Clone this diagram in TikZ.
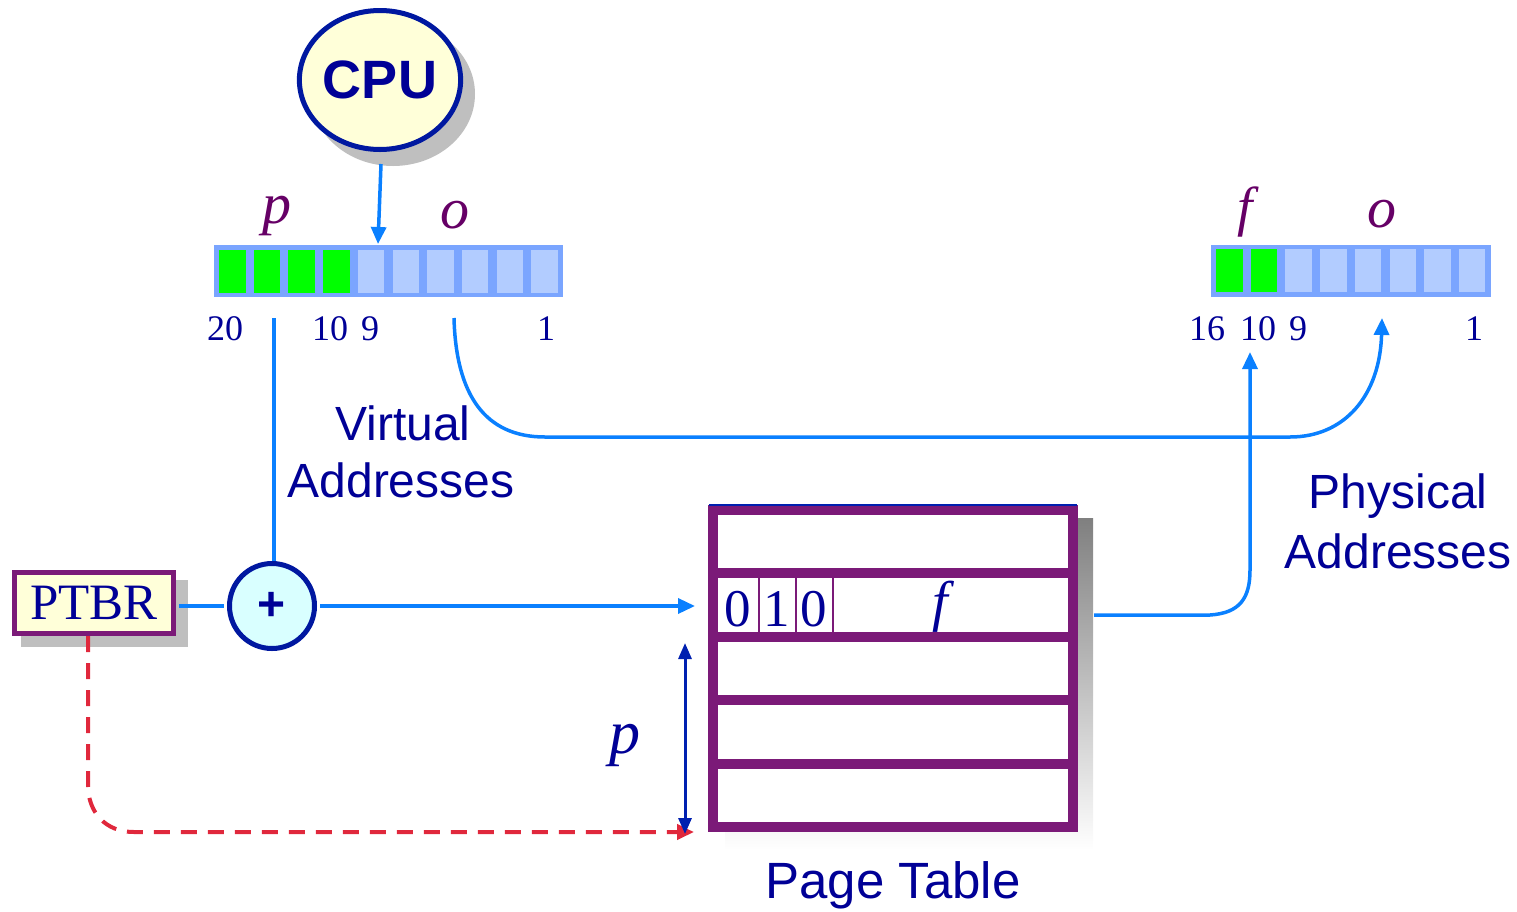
\documentclass[tikz,border=0pt]{standalone}
\usepackage{fontspec}
\setmainfont{Liberation Serif}
\setsansfont{Liberation Sans}
\usetikzlibrary{arrows.meta,shapes.geometric}
\definecolor{connc}{RGB}{10,128,255}
\definecolor{navy}{RGB}{0,0,150}
\definecolor{cpuborder}{RGB}{0,24,160}
\definecolor{ptpurple}{RGB}{123,26,120}
\definecolor{lblpurple}{RGB}{102,0,102}
\definecolor{cream}{RGB}{255,255,217}
\definecolor{lcyan}{RGB}{217,255,255}
\definecolor{bitgreen}{RGB}{0,255,0}
\definecolor{bitblue}{RGB}{178,204,255}
\definecolor{barblue}{RGB}{122,165,255}
\definecolor{dashred}{RGB}{224,40,60}
\definecolor{shade}{RGB}{191,191,191}
\definecolor{pblue}{RGB}{0,32,176}
\begin{document}
\begin{tikzpicture}[x=1pt,y=-1pt,
  connline/.style={draw=connc,line width=3.5},
  conn/.style={connline,-{Triangle[length=17pt,width=15pt]}},
  reddash/.style={draw=dashred,line width=4,dash pattern=on 16pt off 11pt,-{Triangle[length=17pt,width=15pt]}},
  parrow/.style={draw=pblue,line width=3,{Triangle[length=16pt,width=13pt]}-{Triangle[length=16pt,width=13pt]}},
  sanslbl/.style={inner sep=0,text=navy,font=\sffamily\fontsize{48}{50}\selectfont},
  numlbl/.style={inner sep=0,text=navy,font=\fontsize{36}{36}\selectfont},
  fieldlbl/.style={inner sep=0,text=lblpurple,font=\itshape\fontsize{58}{58}\selectfont},
  cellnum/.style={inner sep=0,text=navy,font=\fontsize{53}{53}\selectfont},
  shadow/.style={fill=shade,draw=none}
]
\useasboundingbox (0,0) rectangle (1517,911);

% ---------- CPU ----------
\node[shadow,ellipse,minimum width=164,minimum height=144,inner sep=0] (cpushadow) at (393,94) {};
\node[ellipse,draw=cpuborder,line width=5,fill=cream,minimum width=159,minimum height=139,inner sep=0,
      text=navy,font=\sffamily\bfseries\fontsize{54}{54}\selectfont] (cpu) at (380,80) {CPU};

% ---------- Virtual address bar ----------
\fill[barblue] (214,245) rectangle (563,297);
\foreach \i in {0,...,3}{\pgfmathsetmacro\cx{219+34.7*\i}\fill[bitgreen] (\cx,250) rectangle ++(26.5,43);}
\foreach \i in {4,...,9}{\pgfmathsetmacro\cx{219+34.7*\i}\fill[bitblue] (\cx,250) rectangle ++(26.5,43);}
\coordinate (vtop) at (378,244);
\node[fieldlbl] (vp) at (277,216) {p};
\node[fieldlbl] (vo) at (455,215) {o};
\node[numlbl] (n20) at (225,329) {20};
\node[numlbl] (n10) at (330,329) {10};
\node[numlbl] (n9) at (370,329) {9};
\node[numlbl] (n1) at (546,329) {1};

% ---------- Physical address bar ----------
\fill[barblue] (1211,245) rectangle (1491,297);
\foreach \i in {0,...,1}{\pgfmathsetmacro\cx{1216+34.7*\i}\fill[bitgreen] (\cx,249) rectangle ++(26.5,43);}
\foreach \i in {2,...,7}{\pgfmathsetmacro\cx{1216+34.7*\i}\fill[bitblue] (\cx,249) rectangle ++(26.5,43);}
\node[fieldlbl,font=\itshape\fontsize{55}{55}\selectfont] (pf) at (1245,212) {f};
\node[fieldlbl] (po) at (1382,214) {o};
\node[numlbl] (m16) at (1207,329) {16};
\node[numlbl] (m10) at (1258,329) {10};
\node[numlbl] (m9) at (1298,329) {9};
\node[numlbl] (m1) at (1474,329) {1};

% ---------- labels ----------
\node[sanslbl] (va1) at (403,423) {Virtual};
\node[sanslbl] (va2) at (401,480) {Addresses};
\node[sanslbl] (pa1) at (1398,496) {Physical};
\node[sanslbl] (pa2) at (1398,551) {Addresses};
\node[sanslbl,font=\sffamily\fontsize{51}{51}\selectfont] (ptl) at (893,885) {Page Table};

% ---------- PTBR and adder ----------
\node[shadow,minimum width=167,minimum height=67,inner sep=0] (ptbrshadow) at (104.5,613.5) {};
\node[draw=ptpurple,line width=5,fill=cream,minimum width=159,minimum height=61,inner sep=0,
      text=navy,font=\fontsize{51}{51}\selectfont] (ptbr) at (94,603) {PTBR};
\node[circle,draw=cpuborder,line width=5,fill=lcyan,minimum size=85,inner sep=0,
      text=navy,font=\sffamily\bfseries\fontsize{48}{48}\selectfont] (plus) at (272,606) {+};

% ---------- Page table ----------
\fill[shade] (725,518) rectangle (1093,850);
\node[draw=ptpurple,fill=white,line width=10,minimum width=360,minimum height=317,inner sep=0] (pt) at (893,668.5) {};
\foreach \yy in {573.4,636.8,700.2,763.6}{\draw[ptpurple,line width=10] (713,\yy) -- (1073,\yy);}
\draw[pblue,line width=1.5] (709,505) -- (1077,505);
\foreach \xx in {759,796,833}{\draw[ptpurple,line width=2.5] (\xx,578.4) -- (\xx,631.8);}
\node[cellnum] (c0) at (738,609) {0};
\node[cellnum] (c1) at (777,609) {1};
\node[cellnum] (c2) at (814,609) {0};
\node[inner sep=0,text=navy,font=\itshape\fontsize{56}{56}\selectfont] (tf) at (940,607) {f};
\node[inner sep=0,text=navy,font=\itshape\fontsize{62}{62}\selectfont] (pp) at (625,745) {p};

% ---------- connectors ----------
\coordinate (vbit) at (274,318);
\coordinate (voff) at (454,318);
\coordinate (poff) at (1382,318);
\coordinate (ptin) at (695,606);
\coordinate (ptout) at (1094,615);
\coordinate (pfin) at (1250,352);
\coordinate (ptbot) at (694,832);
\coordinate (pa) at (685,643);
\coordinate (pb) at (685,834);

\draw[conn] ([xshift=1pt,yshift=-12pt]cpu.south) -- (vtop);
\draw[connline] (vbit) -- (vbit |- plus.north);
\draw[connline] ([xshift=3pt]ptbr.east |- plus.west) -- ([xshift=-3pt]plus.west);
\draw[conn] ([xshift=3pt]plus.east) -- (ptin);
\draw[conn] (voff) .. controls (456,395) and (485,437) .. (545,437) -- (1290,437)
            .. controls (1345,437) and (1380,395) .. (poff);
\draw[conn] (ptout) -- (1210,615) .. controls (1240,613) and (1250,598) .. (1250,570) -- (pfin);
\draw[reddash] ([xshift=-6pt]ptbr.south) -- (88,785) .. controls (88,812) and (105,832) .. (134,832) -- (ptbot);
\draw[parrow] (pa) -- (pb);
\end{tikzpicture}
\end{document}
